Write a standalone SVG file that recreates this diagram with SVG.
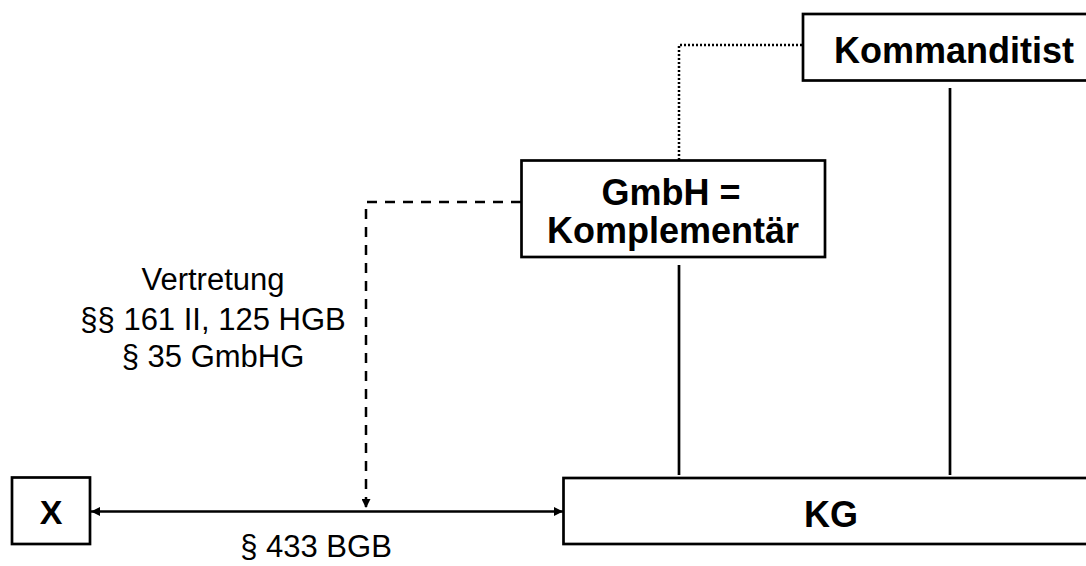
<svg xmlns="http://www.w3.org/2000/svg" width="1086" height="566" viewBox="0 0 1086 566">
<style>
.box{fill:#fff;stroke:#000;stroke-width:2.7}
.t{font-family:"Liberation Sans",Arial,sans-serif;font-weight:bold;font-size:36px;fill:#000;text-anchor:middle}
.l{font-family:"Liberation Sans",Arial,sans-serif;font-size:31px;fill:#000;text-anchor:middle}
.solid{fill:none;stroke:#000;stroke-width:2.7}
.dash{fill:none;stroke:#000;stroke-width:2.5;stroke-dasharray:10 8}
.dot{fill:none;stroke:#000;stroke-width:2.5;stroke-dasharray:2 2}
</style>
<defs>
<marker id="ah" viewBox="0 0 10 10" refX="10" refY="5" markerWidth="10" markerHeight="9" markerUnits="userSpaceOnUse" orient="auto-start-reverse">
<path d="M0,0 L10,5 L0,10 z" fill="#000"/>
</marker>
</defs>
<rect width="1086" height="566" fill="#fff"/>
<g id="connectors">
<path class="dot" d="M679,160 V45 H803"/>
<path class="dash" d="M521,202 H366 V508" marker-end="url(#ah)"/>
<path class="solid" d="M91,511.5 H563" marker-start="url(#ah)" marker-end="url(#ah)"/>
<path class="solid" d="M950,88 V475"/>
<path class="solid" d="M679,265 V475"/>
</g>
<g id="kommanditist">
<rect class="box" x="803" y="14" width="300" height="66.5"/>
<text class="t" x="954" y="63">Kommanditist</text>
</g>
<g id="gmbh">
<rect class="box" x="521.5" y="160.5" width="303.5" height="96.5"/>
<text class="t" x="671" y="205">GmbH =</text>
<text class="t" x="673" y="243">Komplementär</text>
</g>
<g id="x">
<rect class="box" x="12" y="477.5" width="78" height="66.5"/>
<text class="t" x="51" y="524" style="font-size:34px">X</text>
</g>
<g id="kg">
<rect class="box" x="563.5" y="478" width="540" height="66"/>
<text class="t" x="831" y="527">KG</text>
</g>
<g id="labels">
<text class="l" x="213" y="290">Vertretung</text>
<text class="l" x="213" y="330">§§ 161 II, 125 HGB</text>
<text class="l" x="213" y="367">§ 35 GmbHG</text>
<text class="l" x="316" y="557">§ 433 BGB</text>
</g>
</svg>
